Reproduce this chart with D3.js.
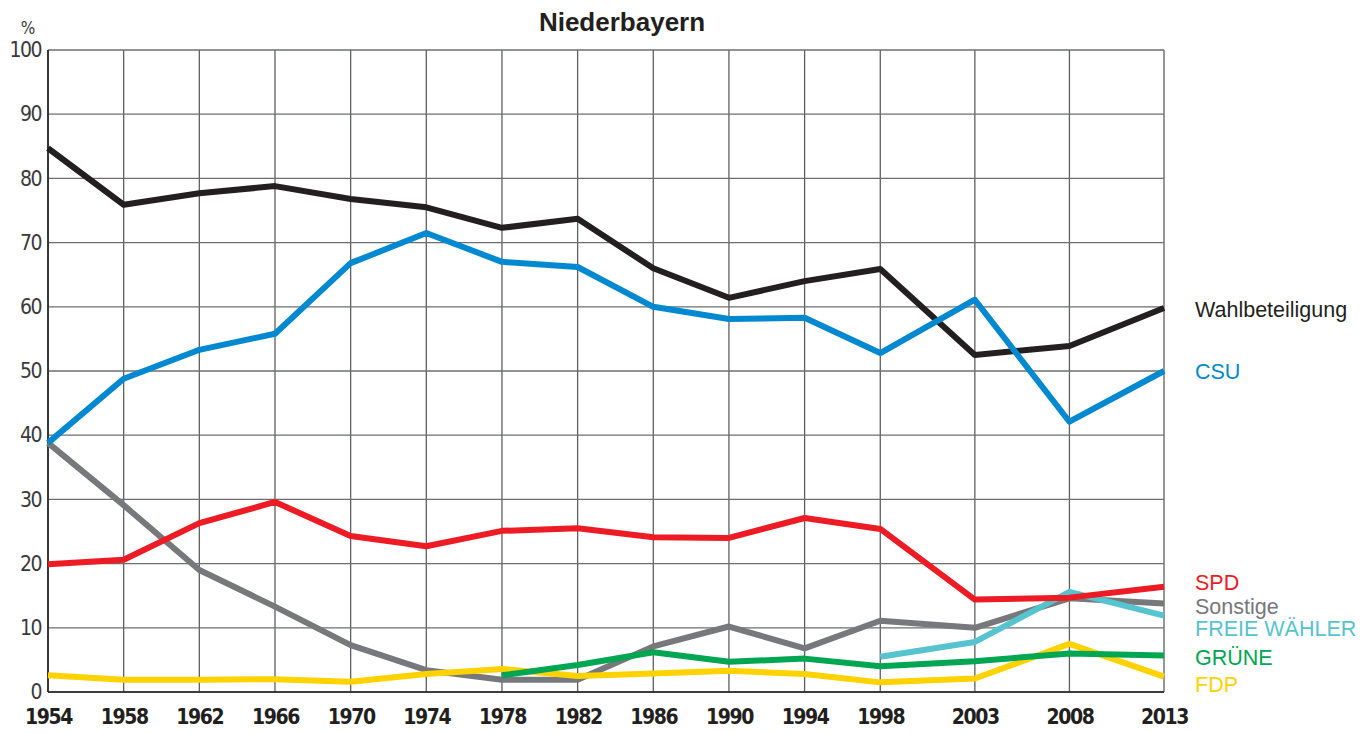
<!DOCTYPE html>
<meta charset="utf-8">
<script src="https://d3js.org/d3.v7.min.js"></script>
<style>
  body { margin: 0; background: #fff; }
  .tick text { font-family: "Liberation Sans Narrow", "DejaVu Sans Condensed", sans-serif; }
</style>
<svg id="chart" width="1365" height="733"></svg>
<script>

// years of the elections (spacing follows the real years)
const years = [1954, 1958, 1962, 1966, 1970, 1974, 1978, 1982, 1986, 1990, 1994, 1998, 2003, 2008, 2013];

// values in %, null = not standing
const wahlbeteiligung = [84.7, 75.9, 77.7, 78.8, 76.8, 75.5, 72.3, 73.7, 66.0, 61.4, 64.0, 65.9, 52.5, 53.9, 59.8];
const csu = [38.8, 48.8, 53.3, 55.8, 66.8, 71.5, 67.0, 66.2, 60.0, 58.1, 58.3, 52.8, 61.1, 42.1, 50.0];
const spd = [19.9, 20.6, 26.3, 29.6, 24.3, 22.7, 25.1, 25.5, 24.1, 24.0, 27.1, 25.4, 14.4, 14.7, 16.4];
const sonstige = [38.8, 29.1, 19.0, 13.3, 7.3, 3.4, 1.9, 1.9, 7.1, 10.2, 6.8, 11.1, 10.0, 14.6, 13.8];
const freieWaehler = [null, null, null, null, null, null, null, null, null, null, null, 5.5, 7.8, 15.6, 11.9];
const gruene = [null, null, null, null, null, null, 2.6, 4.2, 6.2, 4.7, 5.2, 4.0, 4.8, 6.0, 5.7];
const fdp = [2.6, 1.9, 1.9, 2.0, 1.6, 2.8, 3.6, 2.5, 2.9, 3.3, 2.8, 1.5, 2.1, 7.5, 2.4];

const yTicks = [0, 10, 20, 30, 40, 50, 60, 70, 80, 90, 100];

// drawing order (bottom first) and label positions
const series = [
  { name: "Sonstige", values: sonstige, color: "#77787b", labelY: 606 },
  { name: "FDP", values: fdp, color: "#ffd200", labelY: 684 },
  { name: "GRÜNE", values: gruene, color: "#00a651", labelY: 657 },
  { name: "FREIE WÄHLER", values: freieWaehler, color: "#56c4ce", labelY: 628 },
  { name: "SPD", values: spd, color: "#ed1c24", labelY: 582 },
  { name: "Wahlbeteiligung", values: wahlbeteiligung, color: "#231f20", labelY: 309 },
  { name: "CSU", values: csu, color: "#0089d0", labelY: 371 }
];

const svg = d3.select("#chart");
const margin = { top: 50, left: 48 };
const plotW = 1116, plotH = 642;

const x = d3.scaleLinear().domain([1954, 2013]).range([margin.left, margin.left + plotW]);
const y = d3.scaleLinear().domain([0, 100]).range([margin.top + plotH, margin.top]);

// grid
const grid = svg.append("g");
grid.selectAll("line.v")
  .data(years)
  .join("line")
    .attr("x1", d => x(d)).attr("x2", d => x(d))
    .attr("y1", y(100)).attr("y2", y(0))
    .attr("stroke", "#5e5f62")
    .attr("stroke-width", 1.3);
grid.selectAll("line.h")
  .data(yTicks)
  .join("line")
    .attr("x1", x(1954)).attr("x2", x(2013))
    .attr("y1", d => y(d)).attr("y2", d => y(d))
    .attr("stroke", "#6d6e71")
    .attr("stroke-width", 1.3);

// axis lines
svg.append("line")
  .attr("x1", x(1954)).attr("x2", x(1954))
  .attr("y1", y(100)).attr("y2", y(0))
  .attr("stroke", "#231f20").attr("stroke-width", 1.6);
svg.append("line")
  .attr("x1", x(1954)).attr("x2", x(2013))
  .attr("y1", y(0)).attr("y2", y(0))
  .attr("stroke", "#231f20").attr("stroke-width", 1.6);

// y axis labels
const yAxis = svg.append("g")
  .attr("transform", `translate(${margin.left},0)`)
  .call(d3.axisLeft(y).tickValues(yTicks).tickSize(0).tickPadding(7));
yAxis.select(".domain").remove();
yAxis.selectAll("text")
  .style("font-size", "21px")
  .style("letter-spacing", "-1.5px")
  .attr("fill", "#3a3a3c");

// x axis labels
const xAxis = svg.append("g")
  .attr("transform", `translate(0,${y(0)})`)
  .call(d3.axisBottom(x).tickValues(years).tickFormat(d3.format("d")).tickSize(0).tickPadding(17));
xAxis.select(".domain").remove();
xAxis.selectAll("text")
  .style("font-size", "21px")
  .style("font-weight", "bold")
  .style("letter-spacing", "-1.4px")
  .attr("fill", "#231f20");

// unit and title
svg.append("text")
  .attr("x", 28).attr("y", 34)
  .attr("text-anchor", "middle")
  .style("font-family", "'Liberation Sans Narrow', 'DejaVu Sans Condensed', sans-serif")
  .style("font-size", "17px")
  .attr("fill", "#3a3a3c")
  .text("%");

svg.append("text")
  .attr("x", 622).attr("y", 31)
  .attr("text-anchor", "middle")
  .style("font-family", "'Liberation Sans', Arial, sans-serif")
  .style("font-size", "26px")
  .style("font-weight", "bold")
  .attr("fill", "#231f20")
  .text("Niederbayern");

// lines
const line = d3.line()
  .defined(d => d[1] != null)
  .x(d => x(d[0]))
  .y(d => y(d[1]));

svg.append("g")
  .selectAll("path")
  .data(series)
  .join("path")
    .attr("d", s => line(years.map((yr, i) => [yr, s.values[i]])))
    .attr("fill", "none")
    .attr("stroke", s => s.color)
    .attr("stroke-width", 6)
    .attr("stroke-linejoin", "round");

// labels at the right end
svg.append("g")
  .selectAll("text")
  .data(series)
  .join("text")
    .attr("x", 1195)
    .attr("y", s => s.labelY)
    .attr("dy", "0.35em")
    .style("font-family", "'Liberation Sans', Arial, sans-serif")
    .style("font-size", "21.5px")
    .attr("fill", s => s.color)
    .text(s => s.name);

</script>
